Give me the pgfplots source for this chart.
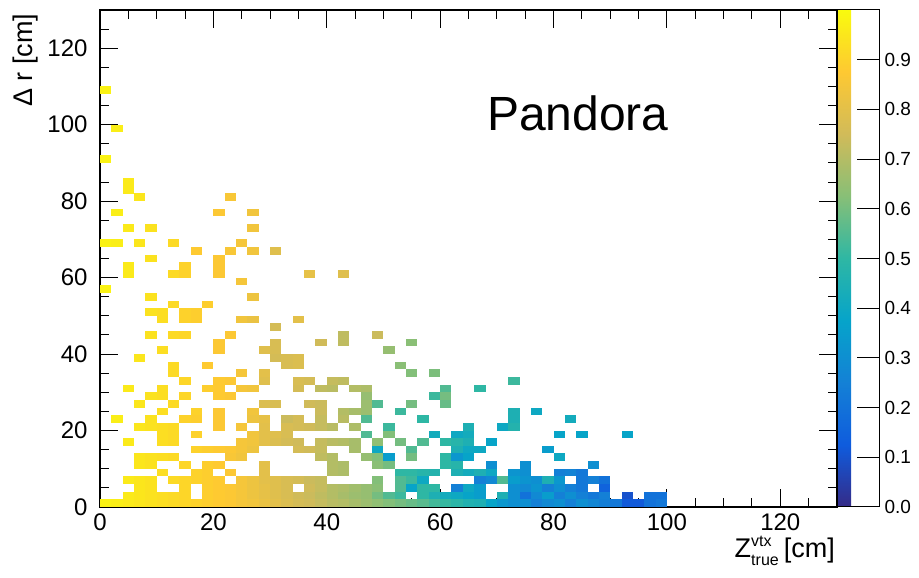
\documentclass[border=0pt]{standalone}
\usepackage{fontspec}
\setmainfont{Liberation Sans}
\usepackage{pgfplots}
\pgfplotsset{compat=1.18}
\usetikzlibrary{calc}
\pgfplotsset{/pgf/number format/assume math mode=true}

% one 2 cm x 2 cm histogram bin (axis: 737pt / 130, 497pt / 130)
\pgfdeclareplotmark{bin}{%
  \pgfpathrectangle{\pgfpoint{-5.67pt}{-3.83pt}}{\pgfpoint{11.34pt}{7.66pt}}%
  \pgfusepathqfill}

\pgfplotstableread[row sep=\\]{
x y c\\
1 109 0.98\\ 3 99 0.97\\ 1 91 0.98\\ 5 85 0.96\\ 5 83 0.96\\
7 81 0.95\\ 23 81 0.86\\
3 77 0.97\\ 21 77 0.87\\ 27 77 0.84\\
5 73 0.96\\ 9 73 0.94\\ 27 73 0.84\\
1 69 0.98\\ 3 69 0.97\\ 7 69 0.95\\ 13 69 0.92\\ 25 69 0.85\\
17 67 0.88\\ 23 67 0.86\\ 27 67 0.84\\ 31 67 0.79\\
9 65 0.94\\ 21 65 0.87\\
5 63 0.96\\ 15 63 0.90\\ 21 63 0.87\\
5 61 0.96\\ 13 61 0.92\\ 15 61 0.90\\ 21 61 0.87\\ 37 61 0.81\\ 43 61 0.79\\
25 59 0.85\\ 1 57 0.98\\ 9 55 0.94\\ 27 55 0.83\\
13 53 0.92\\ 19 53 0.89\\
9 51 0.94\\ 11 51 0.93\\ 15 51 0.90\\ 17 51 0.89\\
11 49 0.93\\ 15 49 0.90\\ 17 49 0.89\\ 25 49 0.84\\ 27 49 0.82\\ 35 49 0.80\\
31 47 0.76\\
9 45 0.94\\ 13 45 0.92\\ 15 45 0.91\\ 23 45 0.87\\ 43 45 0.72\\ 49 45 0.74\\
21 43 0.87\\ 31 43 0.77\\ 39 43 0.75\\ 43 43 0.72\\ 55 43 0.63\\
11 41 0.93\\ 21 41 0.87\\ 29 41 0.79\\ 31 41 0.77\\ 51 41 0.65\\
7 39 0.95\\ 31 39 0.76\\ 33 39 0.77\\ 35 39 0.78\\
13 37 0.92\\ 19 37 0.88\\ 33 37 0.77\\ 35 37 0.78\\ 53 37 0.63\\
13 35 0.92\\ 25 35 0.85\\ 29 35 0.80\\ 55 35 0.62\\ 59 35 0.61\\
15 33 0.91\\ 21 33 0.88\\ 23 33 0.87\\ 29 33 0.79\\ 35 33 0.77\\ 37 33 0.76\\ 41 33 0.73\\ 43 33 0.72\\ 73 33 0.52\\
5 31 0.96\\ 11 31 0.93\\ 19 31 0.89\\ 21 31 0.88\\ 25 31 0.85\\ 27 31 0.84\\ 35 31 0.76\\ 39 31 0.72\\ 41 31 0.71\\ 45 31 0.70\\ 47 31 0.69\\ 61 31 0.55\\ 67 31 0.50\\
9 29 0.94\\ 11 29 0.93\\ 15 29 0.91\\ 21 29 0.88\\ 23 29 0.87\\ 47 29 0.65\\ 59 29 0.52\\ 61 29 0.60\\
7 27 0.95\\ 13 27 0.92\\ 29 27 0.78\\ 31 27 0.77\\ 37 27 0.75\\ 39 27 0.74\\ 47 27 0.66\\ 49 27 0.55\\ 55 27 0.60\\ 61 27 0.58\\
11 25 0.93\\ 17 25 0.90\\ 21 25 0.87\\ 27 25 0.84\\ 39 25 0.74\\ 43 25 0.70\\ 45 25 0.68\\ 47 25 0.66\\ 53 25 0.52\\ 73 25 0.45\\ 77 25 0.40\\
3 23 0.97\\ 9 23 0.94\\ 15 23 0.90\\ 17 23 0.89\\ 21 23 0.87\\ 27 23 0.83\\ 29 23 0.81\\ 33 23 0.74\\ 35 23 0.76\\ 39 23 0.73\\ 43 23 0.71\\ 47 23 0.55\\ 57 23 0.50\\ 73 23 0.45\\ 83 23 0.42\\
7 21 0.95\\ 9 21 0.94\\ 11 21 0.93\\ 13 21 0.92\\ 21 21 0.87\\ 25 21 0.85\\ 29 21 0.80\\ 33 21 0.77\\ 35 21 0.76\\ 37 21 0.75\\ 39 21 0.73\\ 41 21 0.71\\ 45 21 0.69\\ 51 21 0.52\\ 65 21 0.45\\ 71 21 0.40\\ 73 21 0.47\\
11 19 0.93\\ 13 19 0.92\\ 17 19 0.90\\ 27 19 0.84\\ 29 19 0.80\\ 31 19 0.79\\ 33 19 0.77\\ 47 19 0.55\\ 51 19 0.62\\ 59 19 0.42\\ 63 19 0.40\\ 65 19 0.42\\ 81 19 0.38\\ 85 19 0.38\\ 93 19 0.38\\
5 17 0.96\\ 11 17 0.93\\ 13 17 0.92\\ 25 17 0.85\\ 27 17 0.84\\ 29 17 0.80\\ 31 17 0.78\\ 33 17 0.76\\ 35 17 0.75\\ 39 17 0.73\\ 41 17 0.71\\ 43 17 0.70\\ 45 17 0.68\\ 49 17 0.64\\ 53 17 0.60\\ 57 17 0.55\\ 61 17 0.50\\ 63 17 0.48\\ 65 17 0.45\\ 69 17 0.38\\
17 15 0.90\\ 19 15 0.89\\ 21 15 0.88\\ 23 15 0.87\\ 25 15 0.85\\ 27 15 0.83\\ 35 15 0.76\\ 37 15 0.75\\ 39 15 0.73\\ 45 15 0.68\\ 49 15 0.40\\ 55 15 0.55\\ 63 15 0.45\\ 65 15 0.40\\ 67 15 0.40\\ 79 15 0.35\\
7 13 0.95\\ 9 13 0.94\\ 11 13 0.93\\ 13 13 0.92\\ 23 13 0.86\\ 25 13 0.84\\ 39 13 0.72\\ 41 13 0.70\\ 47 13 0.65\\ 49 13 0.62\\ 51 13 0.35\\ 55 13 0.60\\ 61 13 0.50\\ 63 13 0.33\\ 65 13 0.38\\ 81 13 0.40\\
7 11 0.95\\ 9 11 0.94\\ 15 11 0.91\\ 19 11 0.89\\ 21 11 0.88\\ 29 11 0.80\\ 41 11 0.70\\ 43 11 0.69\\ 49 11 0.63\\ 51 11 0.60\\ 61 11 0.50\\ 63 11 0.48\\ 69 11 0.30\\ 75 11 0.30\\ 87 11 0.30\\
11 9 0.93\\ 17 9 0.90\\ 19 9 0.89\\ 23 9 0.87\\ 29 9 0.80\\ 41 9 0.70\\ 43 9 0.69\\ 53 9 0.50\\ 55 9 0.50\\ 57 9 0.48\\ 59 9 0.47\\ 63 9 0.45\\ 65 9 0.42\\ 67 9 0.45\\ 69 9 0.40\\ 73 9 0.32\\ 75 9 0.30\\ 81 9 0.25\\ 83 9 0.26\\ 85 9 0.22\\
5 7 0.96\\ 7 7 0.95\\ 9 7 0.94\\ 13 7 0.92\\ 15 7 0.91\\ 17 7 0.90\\ 19 7 0.89\\ 21 7 0.88\\ 25 7 0.85\\ 27 7 0.83\\ 29 7 0.80\\ 31 7 0.79\\ 33 7 0.77\\ 35 7 0.76\\ 37 7 0.74\\ 39 7 0.73\\ 49 7 0.62\\ 53 7 0.55\\ 55 7 0.52\\ 57 7 0.40\\ 67 7 0.25\\ 69 7 0.28\\ 71 7 0.55\\ 73 7 0.35\\ 75 7 0.32\\ 77 7 0.30\\ 79 7 0.45\\ 81 7 0.33\\ 85 7 0.22\\ 87 7 0.25\\ 89 7 0.20\\
7 5 0.95\\ 9 5 0.94\\ 15 5 0.91\\ 19 5 0.89\\ 21 5 0.88\\ 23 5 0.87\\ 25 5 0.85\\ 27 5 0.83\\ 29 5 0.81\\ 31 5 0.79\\ 33 5 0.77\\ 37 5 0.75\\ 39 5 0.73\\ 41 5 0.70\\ 43 5 0.69\\ 45 5 0.67\\ 47 5 0.65\\ 49 5 0.63\\ 53 5 0.55\\ 55 5 0.38\\ 57 5 0.50\\ 59 5 0.50\\ 63 5 0.25\\ 65 5 0.40\\ 67 5 0.35\\ 73 5 0.30\\ 75 5 0.28\\ 77 5 0.32\\ 79 5 0.25\\ 81 5 0.30\\ 83 5 0.25\\ 85 5 0.22\\ 89 5 0.15\\
5 3 0.96\\ 7 3 0.95\\ 9 3 0.94\\ 11 3 0.93\\ 13 3 0.92\\ 15 3 0.91\\ 19 3 0.89\\ 21 3 0.88\\ 23 3 0.87\\ 25 3 0.85\\ 27 3 0.83\\ 29 3 0.81\\ 31 3 0.79\\ 33 3 0.77\\ 35 3 0.75\\ 37 3 0.74\\ 39 3 0.72\\ 41 3 0.70\\ 43 3 0.68\\ 45 3 0.66\\ 47 3 0.65\\ 49 3 0.60\\ 51 3 0.55\\ 53 3 0.52\\ 57 3 0.50\\ 59 3 0.45\\ 61 3 0.42\\ 63 3 0.40\\ 65 3 0.38\\ 67 3 0.35\\ 71 3 0.45\\ 73 3 0.30\\ 75 3 0.20\\ 77 3 0.28\\ 79 3 0.35\\ 81 3 0.25\\ 83 3 0.30\\ 85 3 0.25\\ 87 3 0.22\\ 89 3 0.25\\ 93 3 0.10\\ 97 3 0.20\\ 99 3 0.20\\
1 1 0.98\\ 3 1 0.97\\ 5 1 0.96\\ 7 1 0.95\\ 9 1 0.94\\ 11 1 0.93\\ 13 1 0.92\\ 15 1 0.91\\ 17 1 0.90\\ 19 1 0.89\\ 21 1 0.88\\ 23 1 0.87\\ 25 1 0.85\\ 27 1 0.84\\ 29 1 0.82\\ 31 1 0.80\\ 33 1 0.78\\ 35 1 0.76\\ 37 1 0.75\\ 39 1 0.73\\ 41 1 0.71\\ 43 1 0.70\\ 45 1 0.68\\ 47 1 0.66\\ 49 1 0.64\\ 51 1 0.62\\ 53 1 0.60\\ 55 1 0.58\\ 57 1 0.56\\ 59 1 0.53\\ 61 1 0.51\\ 63 1 0.49\\ 65 1 0.46\\ 67 1 0.45\\ 69 1 0.38\\ 71 1 0.33\\ 73 1 0.30\\ 75 1 0.30\\ 77 1 0.25\\ 79 1 0.28\\ 81 1 0.30\\ 83 1 0.25\\ 85 1 0.30\\ 87 1 0.27\\ 89 1 0.24\\ 91 1 0.22\\ 93 1 0.12\\ 95 1 0.12\\ 97 1 0.20\\ 99 1 0.22\\
}\bins

\begin{document}
\begin{tikzpicture}
\begin{axis}[name=ax, scale only axis, width=737pt, height=497pt,
  xmin=0, xmax=130, ymin=0, ymax=130,
  xtick={0,20,...,120}, ytick={0,20,...,120},
  minor xtick={0,5,...,130}, minor ytick={0,5,...,130},
  tick align=inside, major tick length=18pt, minor tick length=9pt,
  axis on top,
  axis line style={line width=1.8pt},
  tick style={line width=1pt, black},
  ticklabel style={font=\fontsize{24}{28}\selectfont},
  yticklabel style={xshift=-9pt},
  xticklabel style={yshift=-3pt},
  colormap={bird}{rgb=(0.2082,0.1664,0.5293) rgb=(0.0592,0.3599,0.8684)
    rgb=(0.0780,0.5041,0.8385) rgb=(0.0232,0.6419,0.7914) rgb=(0.1802,0.7178,0.6425)
    rgb=(0.5301,0.7492,0.4662) rgb=(0.8186,0.7328,0.3499) rgb=(0.9956,0.7862,0.1968)
    rgb=(0.9764,0.9832,0.0539)},
  point meta min=0, point meta max=1,
  colorbar,
  colorbar style={at={(1,0)}, anchor=south west, xshift=1pt,
    scale only axis, width=42pt, height=497pt,
    ytick={0,0.1,0.2,0.3,0.4,0.5,0.6,0.7,0.8,0.9},
    ytick pos=right, yticklabel pos=right,
    tick align=inside, major tick length=22pt,
    tick style={line width=1pt, black},
    axis line style={line width=1pt},
    yticklabel style={font=\fontsize{19}{22}\selectfont, xshift=2pt,
      /pgf/number format/.cd, fixed, fixed zerofill, precision=1}},
]
\addplot[scatter, only marks, mark=bin, point meta=explicit]
  table[x=x, y=y, meta=c] {\bins};
\node[font=\fontsize{48}{50}\selectfont] at (axis cs:84.3,103) {Pandora};
\end{axis}
\node[rotate=90, anchor=south east, font=\fontsize{27}{30}\selectfont]
  at ($(ax.north west)+(-58pt,0)$) {Δ r [cm]};
\node[anchor=north east, font=\fontsize{27}{30}\selectfont, inner sep=1pt]
  at ($(ax.south east)+(-1pt,-28pt)$)
  {Z\rlap{\fontsize{16}{16}\selectfont\raisebox{11pt}{vtx}}{\fontsize{16}{16}\selectfont\raisebox{-8pt}{true}}\hspace{5pt}[cm]};
\path (ax.south west) ++(-100pt,-71pt) rectangle ++(919pt,578pt);
\end{tikzpicture}
\end{document}
